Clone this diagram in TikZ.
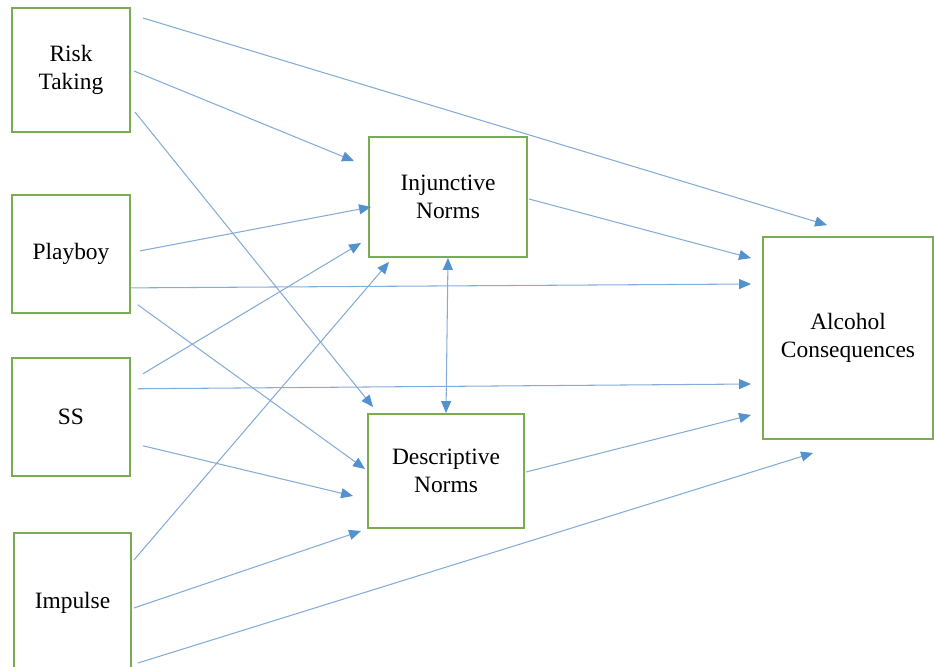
\documentclass[tikz,border=0pt]{standalone}
\usepackage{fontspec}
\setmainfont{Liberation Serif}
\usetikzlibrary{positioning}
\usetikzlibrary{arrows.meta}
\definecolor{boxgreen}{RGB}{122,173,82}
\definecolor{linkblue}{RGB}{132,172,216}
\definecolor{tipblue}{RGB}{84,145,207}

\begin{document}
\begin{tikzpicture}[x=0.03cm, y=-0.03cm, align=center, font=\fontsize{20}{24}\selectfont,
		varnode/.style={rectangle,draw=boxgreen,line width=1.6pt,fill=white,inner sep=0pt},
		link/.style={draw=linkblue,line width=0.9pt,-{Triangle[length=0.36cm,width=0.3cm,color=tipblue]}}]
		\useasboundingbox (0,0) rectangle (934,666);
		\node[varnode,minimum width=3.54cm,minimum height=3.72cm] (risk) at (71,70) {Risk\\Taking};
		\node[varnode,minimum width=3.54cm,minimum height=3.54cm] (playboy) [below = 1.83cm of risk] {Playboy};
		\node[varnode,minimum width=3.54cm,minimum height=3.54cm] (ss) [below = 1.29cm of playboy] {SS};
		\node[varnode,minimum width=3.51cm,minimum height=4.2cm] (impulse) at (72.5,603) {Impulse};
		\node[varnode,minimum width=4.74cm,minimum height=3.6cm] (injunctive) at (448,197) {Injunctive\\Norms};
		\node[varnode,minimum width=4.68cm,minimum height=3.42cm] (descriptive) at (446,471) {Descriptive\\Norms};
		\node[varnode,minimum width=5.1cm,minimum height=6.06cm] (alcohol) at (848,338) {Alcohol\\Consequences};
		\draw[link] ([shift={(12,-52)}]risk.east) -- ([shift={(65,-11)}]alcohol.north west);
		\draw[link] ([shift={(3,1)}]risk.east) -- ([shift={(-14,25)}]injunctive.north west);
		\draw[link] ([shift={(4,42)}]risk.east) -- ([shift={(6,-6)}]descriptive.north west);
		\draw[link] ([shift={(9,-3)}]playboy.east) -- ([shift={(3,10)}]injunctive.west);
		\draw[link] ([shift={(0,34)}]playboy.east) -- ([shift={(-11,-54)}]alcohol.west);
		\draw[link] ([shift={(7,51)}]playboy.east) -- ([shift={(-2,-2)}]descriptive.west);
		\draw[link] ([shift={(12,-43)}]ss.east) -- ([shift={(-7,-15)}]injunctive.south west);
		\draw[link] ([shift={(7,-28)}]ss.east) -- ([shift={(-11,46)}]alcohol.west);
		\draw[link] ([shift={(12,29)}]ss.east) -- ([shift={(-14,25)}]descriptive.west);
		\draw[link] ([shift={(2,-43)}]impulse.east) -- ([shift={(21,4)}]injunctive.south west);
		\draw[link] ([shift={(2,5)}]impulse.east) -- ([shift={(-6,2)}]descriptive.south west);
		\draw[link] ([shift={(6,60)}]impulse.east) -- ([shift={(51,13)}]alcohol.south west);
		\draw[link] ([shift={(1,2)}]injunctive.east) -- ([shift={(-11,22)}]alcohol.north west);
		\draw[link] ([shift={(1,1)}]descriptive.east) -- ([shift={(-11,77)}]alcohol.west);
		\draw[link,{Triangle[length=0.36cm,width=0.3cm,color=tipblue]}-{Triangle[length=0.36cm,width=0.3cm,color=tipblue]}] (injunctive.south) -- (descriptive.north);
	\end{tikzpicture}
\end{document}
